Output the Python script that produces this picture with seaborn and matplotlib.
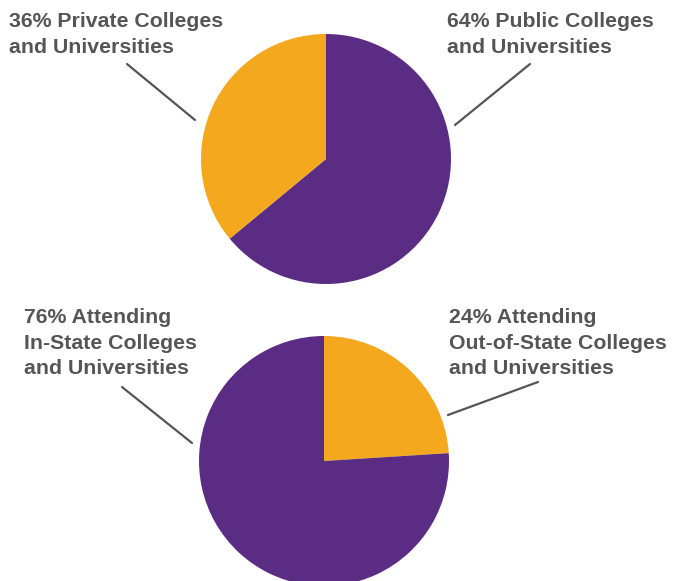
import matplotlib
matplotlib.use("Agg")
import matplotlib.pyplot as plt
import seaborn as sns
from matplotlib.lines import Line2D

sns.set_theme(style="white")
plt.rcParams['font.family'] = ['Liberation Sans', 'DejaVu Sans']

# data
type_labels = ["Public Colleges and Universities", "Private Colleges and Universities"]
type_shares = [64, 36]
state_labels = ["Out-of-State Colleges and Universities", "In-State Colleges and Universities"]
state_shares = [24, 76]

PURPLE = "#5B2C83"
ORANGE = "#F4A81D"
TEXT = "#555555"

W, H = 673, 581
fig = plt.figure(figsize=(W / 100, H / 100), dpi=100)


def px_axes(cx, cy, r):
    # axes from pixel center/radius (y measured from top)
    return fig.add_axes([(cx - r) / W, (H - cy - r) / H, 2 * r / W, 2 * r / H])


def leader(x0, y0, x1, y1):
    fig.add_artist(Line2D([x0 / W, x1 / W], [1 - y0 / H, 1 - y1 / H],
                          color="#555555", lw=1.6, transform=fig.transFigure))


def label(x, y, s):
    fig.text(x / W, 1 - y / H, s, ha="left", va="top", fontsize=15.3,
             fontweight="bold", color=TEXT, linespacing=1.45)


ax1 = px_axes(326, 159, 125)
ax1.pie(type_shares, colors=[PURPLE, ORANGE], startangle=90, counterclock=False,
        radius=1, wedgeprops=dict(linewidth=0))
ax1.set_xlim(-1, 1)
ax1.set_ylim(-1, 1)
ax1.axis("off")

ax2 = px_axes(324, 461, 125)
ax2.pie(state_shares, colors=[ORANGE, PURPLE], startangle=90, counterclock=False,
        radius=1, wedgeprops=dict(linewidth=0))
ax2.set_xlim(-1, 1)
ax2.set_ylim(-1, 1)
ax2.axis("off")

label(9, 12, f"{type_shares[1]}% Private Colleges\nand Universities")
label(447, 12, f"{type_shares[0]}% Public Colleges\nand Universities")
label(24, 308, f"{state_shares[1]}% Attending\nIn-State Colleges\nand Universities")
label(449, 308, f"{state_shares[0]}% Attending\nOut-of-State Colleges\nand Universities")

leader(127, 64, 195, 120)
leader(530, 64, 455, 125)
leader(122, 387, 192, 443)
leader(538, 382, 448, 415)

fig.savefig("out.png", dpi=100)
plt.close()
